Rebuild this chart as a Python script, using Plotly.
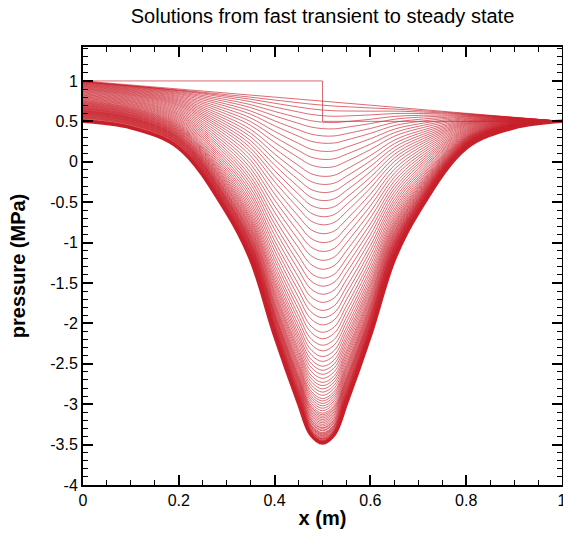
import plotly.graph_objects as go

# ---------------- data ----------------
# spatial stations (m)
x_grid = [0.0, 0.1, 0.2, 0.3, 0.35, 0.4, 0.45, 0.475, 0.5, 0.525, 0.55, 0.6, 0.65, 0.7, 0.8, 0.9, 1.0]
# steady-state pressure profile (MPa) at the stations
steady_mpa = [0.50, 0.42, 0.17, -0.63, -1.21, -2.15, -2.99, -3.37, -3.48, -3.37, -2.99, -2.15, -1.21, -0.63, 0.17, 0.42, 0.50]

# initial condition (step) and first transient (straight line)
initial_x = [0.0, 0.5, 0.5, 1.0]
initial_mpa = [1.0, 1.0, 0.5, 0.5]
first_x = [0.0, 1.0]
first_mpa = [1.0, 0.5]

# transient curves: pressure at mid-pipe (x = 0.5 m)
center_mpa = [0.70, 0.64, 0.57, 0.49, 0.41, 0.32, 0.23, 0.13, 0.03, -0.07, -0.18, -0.28, -0.38,
              -0.48, -0.58, -0.68, -0.78, -0.89, -1.00, -1.11, -1.22, -1.33, -1.44, -1.54, -1.64,
              -1.74, -1.84, -1.93, -2.02, -2.11, -2.19, -2.27, -2.34, -2.41, -2.47, -2.53, -2.58,
              -2.63, -2.68, -2.73, -2.77, -2.81, -2.85, -2.89, -2.93, -2.96, -2.99, -3.02, -3.05,
              -3.08, -3.11, -3.13, -3.15, -3.17, -3.19, -3.21, -3.23, -3.25, -3.27, -3.29, -3.30,
              -3.32, -3.33, -3.35, -3.36, -3.37, -3.38, -3.39, -3.40, -3.41, -3.42, -3.43, -3.43,
              -3.44, -3.45, -3.45, -3.46, -3.46, -3.47, -3.47, -3.48]
# transient curves: pressure at the inlet (x = 0)
inlet_mpa = [0.99, 0.99, 0.99, 0.984, 0.979, 0.973, 0.967, 0.960, 0.954, 0.947, 0.940, 0.933, 0.926,
             0.918, 0.911, 0.903, 0.896, 0.888, 0.879, 0.870, 0.861, 0.852, 0.842, 0.833, 0.824,
             0.815, 0.805, 0.796, 0.787, 0.777, 0.769, 0.759, 0.751, 0.744, 0.736, 0.729, 0.722,
             0.715, 0.709, 0.701, 0.695, 0.690, 0.683, 0.676, 0.670, 0.665, 0.659, 0.653, 0.649,
             0.642, 0.636, 0.632, 0.628, 0.623, 0.618, 0.614, 0.608, 0.605, 0.599, 0.593, 0.589,
             0.584, 0.579, 0.573, 0.567, 0.561, 0.557, 0.550, 0.545, 0.539, 0.532, 0.520, 0.520,
             0.515, 0.510, 0.508, 0.505, 0.504, 0.502, 0.501, 0.500]
outlet_mpa = 0.5

x_range = [0, 1]
y_range = [-4, 1.42]
x_tick_vals = [0, 0.2, 0.4, 0.6, 0.8, 1]
x_tick_text = ["0", "0.2", "0.4", "0.6", "0.8", "1"]
y_tick_vals = [1, 0.5, 0, -0.5, -1, -1.5, -2, -2.5, -3, -3.5, -4]
y_tick_text = ["1", "0.5", "0", "-0.5", "-1", "-1.5", "-2", "-2.5", "-3", "-3.5", "-4"]

# ---------------- figure ----------------
RED = "rgba(200,32,42,0.66)"
RED_SOLID = "rgb(200,32,42)"
fig = go.Figure()

fig.add_trace(go.Scatter(x=initial_x, y=initial_mpa, mode="lines",
                         line=dict(color=RED, width=1), showlegend=False))
fig.add_trace(go.Scatter(x=first_x, y=first_mpa, mode="lines",
                         line=dict(color=RED, width=1), showlegend=False))

mid = x_grid.index(0.5)
depth = outlet_mpa - steady_mpa[mid]
for c, L in zip(center_mpa, inlet_mpa):
    base_mid = (L + outlet_mpa) / 2
    w = (base_mid - c) / depth
    ys = [L + (outlet_mpa - L) * x + w * (s - outlet_mpa) for x, s in zip(x_grid, steady_mpa)]
    fig.add_trace(go.Scatter(x=x_grid, y=ys, mode="lines",
                             line=dict(color=RED, width=1, shape="spline", smoothing=1.0),
                             showlegend=False))

# steady state drawn on the mirrored (top/right) frame axes, which share the same ranges
fig.add_trace(go.Scatter(x=x_grid, y=steady_mpa, mode="lines", xaxis="x2", yaxis="y2",
                         line=dict(color=RED_SOLID, width=3.5, shape="spline", smoothing=1.0),
                         showlegend=False))

FONT = "Liberation Sans, Arial, sans-serif"
frame = dict(
    showline=True, linewidth=2, linecolor="black",
    ticks="inside", ticklen=10, tickwidth=2, tickcolor="black",
    showgrid=False, zeroline=False, automargin=False,
    tickfont=dict(family=FONT, size=16, color="black"),
)
x_minor = dict(ticks="inside", dtick=0.05, tick0=0, ticklen=5, tickwidth=1, tickcolor="black", showgrid=False)
y_minor = dict(ticks="inside", dtick=0.1, tick0=0, ticklen=5, tickwidth=1, tickcolor="black", showgrid=False)

fig.update_layout(
    xaxis=dict(range=x_range, tickvals=x_tick_vals, ticktext=x_tick_text, minor=x_minor,
               ticklabeloverflow="allow",
               title=dict(text="<b>x (m)</b>", font=dict(family=FONT, size=20, color="black"), standoff=3),
               **frame),
    yaxis=dict(range=y_range, tickvals=y_tick_vals, ticktext=y_tick_text, minor=y_minor,
               ticklabeloverflow="allow",
               title=dict(text="<b>pressure (MPa)</b>", font=dict(family=FONT, size=20, color="black"),
                          standoff=19),
               **frame),
    xaxis2=dict(range=x_range, overlaying="x", side="top", anchor="y2", tickvals=x_tick_vals,
                showticklabels=False, minor=x_minor, **frame),
    yaxis2=dict(range=y_range, overlaying="y", side="right", anchor="x2", tickvals=y_tick_vals,
                showticklabels=False, minor=y_minor, **frame),
)

fig.update_layout(
    width=563, height=538,
    margin=dict(l=83, r=1, t=47, b=53, autoexpand=False),
    paper_bgcolor="white", plot_bgcolor="white",
    title=dict(text="Solutions from fast transient to steady state",
               font=dict(family=FONT, size=20, color="black"),
               x=0.5, xref="paper", xanchor="center", y=1 - 16 / 538, yref="container", yanchor="middle"),
    showlegend=False,
    hovermode=False,
)

fig.write_html(
    "out.html",
    config={"displayModeBar": False, "staticPlot": True},
    post_script="document.body.style.margin='0';document.body.style.overflow='hidden';",
)
